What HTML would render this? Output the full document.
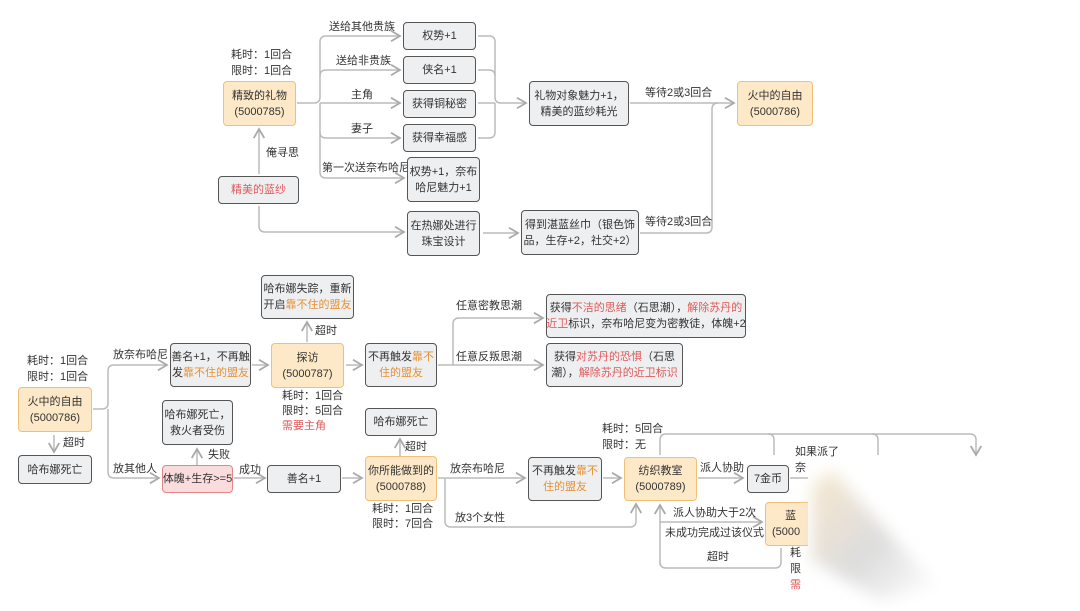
<!DOCTYPE html>
<html><head><meta charset="utf-8"><style>
html,body{margin:0;padding:0;background:#fff;}
#c{position:relative;width:1080px;height:611px;overflow:hidden;background:#fff;font-family:"Liberation Sans","Noto Sans CJK SC",sans-serif;color:#333;font-size:11px;}
.b{position:absolute;box-sizing:border-box;border:1.5px solid #555;border-radius:4px;background:#eeeff1;display:flex;align-items:center;justify-content:center;text-align:center;line-height:16px;font-size:11px;white-space:nowrap;}
.b>div{display:block;}
.o{background:#fde9c8;border-color:#f0c078;}
.p{background:#fadcdc;border-color:#e08888;}
.t{position:absolute;white-space:nowrap;font-size:11px;line-height:15px;}
.r{color:#e05a5a;}.y{color:#e89030;}
svg{position:absolute;left:0;top:0;}
</style></head><body><div id="c">
<svg width="1080" height="611" fill="none" stroke="#bbb" stroke-width="1.5">
<defs><marker id="a" markerWidth="8" markerHeight="8" refX="7" refY="4" orient="auto"><path d="M1,0.5 L7,4 L1,7.5" stroke="#aaa" stroke-width="1.2" fill="none"/></marker></defs>
<path d="M297,103 H314 Q320,103 320,97 V42 Q320,36 326,36 H400" marker-end="url(#a)"/>
<path d="M320,76 Q320,70 326,70 H400" marker-end="url(#a)"/>
<path d="M320,103 H400" marker-end="url(#a)"/>
<path d="M320,103 V132 Q320,138 326,138 H400" marker-end="url(#a)"/>
<path d="M320,132 V172 Q320,178 326,178 H404" marker-end="url(#a)"/>
<path d="M259,174 V129" marker-end="url(#a)"/>
<path d="M478,36 H489 Q495,36 495,42 V97 Q495,103 501,103 H526" marker-end="url(#a)"/>
<path d="M478,70 H489 Q495,70 495,76"/>
<path d="M478,103 H495"/>
<path d="M478,138 H489 Q495,138 495,132 V103"/>
<path d="M630,103 H734" marker-end="url(#a)"/>
<path d="M259,206 V226 Q259,232 265,232 H404" marker-end="url(#a)"/>
<path d="M483,233 H518" marker-end="url(#a)"/>
<path d="M640,233 H706 Q712,233 712,227 V109 Q712,103 718,103"/>
<path d="M93,409 H102 Q108,409 108,403 V371 Q108,365 114,365 H167" marker-end="url(#a)"/>
<path d="M108,409 V472 Q108,478 114,478 H159" marker-end="url(#a)"/>
<path d="M54,435 V452" marker-end="url(#a)"/>
<path d="M252,365 H268" marker-end="url(#a)"/>
<path d="M307,342 V322" marker-end="url(#a)"/>
<path d="M346,365 H362" marker-end="url(#a)"/>
<path d="M438,365 H543" marker-end="url(#a)"/>
<path d="M453,365 V324 Q453,318 459,318 H543" marker-end="url(#a)"/>
<path d="M197,465 V449" marker-end="url(#a)"/>
<path d="M234,478 H265" marker-end="url(#a)"/>
<path d="M342,478 H362" marker-end="url(#a)"/>
<path d="M400,456 V439" marker-end="url(#a)"/>
<path d="M438,478 H525" marker-end="url(#a)"/>
<path d="M445,478 V521 Q445,527 451,527 H630 Q636,527 636,521 V504" marker-end="url(#a)"/>
<path d="M603,478 H621" marker-end="url(#a)"/>
<path d="M698,478 H743" marker-end="url(#a)"/>
<path d="M790,478 H810"/>
<path d="M660,455 V440 Q660,434 666,434 H970 Q976,434 976,440 V455" marker-end="url(#a)"/>
<path d="M768,434 Q774,434 774,440 V455"/>
<path d="M872,434 Q878,434 878,440 V455"/>
<path d="M660,522 H762" marker-end="url(#a)"/>
<path d="M660,565 V505" marker-end="url(#a)"/>
<path d="M660,562 Q660,568 666,568 H775 Q781,568 781,562 V548"/>
</svg>
<div class="t" style="left:231px;top:48px">耗时：1回合</div>
<div class="t" style="left:231px;top:64px">限时：1回合</div>
<div class="b o" style="left:223px;top:81px;width:73px;height:45px"><div>精致的礼物<br>(5000785)</div></div>
<div class="b" style="left:218px;top:176px;width:81px;height:28px"><div class="r">精美的蓝纱</div></div>
<div class="t" style="left:266px;top:146px">俺寻思</div>
<div class="t" style="left:329px;top:20px">送给其他贵族</div>
<div class="t" style="left:336px;top:54px">送给非贵族</div>
<div class="t" style="left:351px;top:88px">主角</div>
<div class="t" style="left:351px;top:122px">妻子</div>
<div class="t" style="left:322px;top:161px">第一次送奈布哈尼</div>
<div class="b" style="left:403px;top:22px;width:73px;height:28px"><div>权势+1</div></div>
<div class="b" style="left:403px;top:56px;width:73px;height:28px"><div>侠名+1</div></div>
<div class="b" style="left:403px;top:90px;width:73px;height:28px"><div>获得铜秘密</div></div>
<div class="b" style="left:403px;top:124px;width:73px;height:28px"><div>获得幸福感</div></div>
<div class="b" style="left:407px;top:157px;width:73px;height:45px"><div>权势+1，奈布<br>哈尼魅力+1</div></div>
<div class="b" style="left:529px;top:81px;width:100px;height:45px"><div>礼物对象魅力+1，<br>精美的蓝纱耗光</div></div>
<div class="t" style="left:645px;top:86px">等待2或3回合</div>
<div class="b o" style="left:737px;top:81px;width:76px;height:45px"><div>火中的自由<br>(5000786)</div></div>
<div class="b" style="left:407px;top:211px;width:73px;height:45px"><div>在热娜处进行<br>珠宝设计</div></div>
<div class="b" style="left:521px;top:210px;width:118px;height:45px"><div>得到湛蓝丝巾（银色饰<br>品，生存+2，社交+2）</div></div>
<div class="t" style="left:645px;top:215px">等待2或3回合</div>
<div class="t" style="left:27px;top:354px">耗时：1回合</div>
<div class="t" style="left:27px;top:370px">限时：1回合</div>
<div class="b o" style="left:18px;top:387px;width:74px;height:45px"><div>火中的自由<br>(5000786)</div></div>
<div class="t" style="left:63px;top:436px">超时</div>
<div class="b" style="left:18px;top:455px;width:74px;height:29px"><div>哈布娜死亡</div></div>
<div class="t" style="left:113px;top:348px">放奈布哈尼</div>
<div class="t" style="left:113px;top:462px">放其他人</div>
<div class="b" style="left:170px;top:343px;width:81px;height:44px"><div>善名+1，不再触<br>发<span class="y">靠不住的盟友</span></div></div>
<div class="b" style="left:261px;top:275px;width:93px;height:44px"><div>哈布娜失踪，重新<br>开启<span class="y">靠不住的盟友</span></div></div>
<div class="t" style="left:315px;top:324px">超时</div>
<div class="b o" style="left:271px;top:343px;width:73px;height:45px"><div>探访<br>(5000787)</div></div>
<div class="t" style="left:282px;top:389px">耗时：1回合</div>
<div class="t" style="left:282px;top:404px">限时：5回合</div>
<div class="t r" style="left:282px;top:419px">需要主角</div>
<div class="b" style="left:365px;top:343px;width:72px;height:44px"><div>不再触发<span class="y">靠不</span><br><span class="y">住的盟友</span></div></div>
<div class="t" style="left:456px;top:299px">任意密教思潮</div>
<div class="t" style="left:456px;top:350px">任意反叛思潮</div>
<div class="b" style="left:546px;top:294px;width:200px;height:44px"><div>获得<span class="r">不洁的思绪</span>（石思潮），<span class="r">解除苏丹的</span><br><span class="r">近卫</span>标识，奈布哈尼变为密教徒，体魄+2</div></div>
<div class="b" style="left:546px;top:343px;width:137px;height:44px"><div>获得<span class="r">对苏丹的恐惧</span>（石思<br>潮），<span class="r">解除苏丹的近卫标识</span></div></div>
<div class="b" style="left:162px;top:400px;width:71px;height:45px"><div>哈布娜死亡，<br>救火者受伤</div></div>
<div class="t" style="left:208px;top:448px">失败</div>
<div class="b p" style="left:162px;top:465px;width:71px;height:28px"><div>体魄+生存&gt;=5</div></div>
<div class="t" style="left:239px;top:463px">成功</div>
<div class="b" style="left:267px;top:465px;width:74px;height:28px"><div>善名+1</div></div>
<div class="b" style="left:365px;top:408px;width:72px;height:28px"><div>哈布娜死亡</div></div>
<div class="t" style="left:405px;top:440px">超时</div>
<div class="b o" style="left:365px;top:456px;width:72px;height:45px"><div>你所能做到的<br>(5000788)</div></div>
<div class="t" style="left:372px;top:502px">耗时：1回合</div>
<div class="t" style="left:372px;top:517px">限时：7回合</div>
<div class="t" style="left:450px;top:462px">放奈布哈尼</div>
<div class="t" style="left:455px;top:511px">放3个女性</div>
<div class="b" style="left:528px;top:457px;width:74px;height:44px"><div>不再触发<span class="y">靠不</span><br><span class="y">住的盟友</span></div></div>
<div class="t" style="left:602px;top:422px">耗时：5回合</div>
<div class="t" style="left:602px;top:438px">限时：无</div>
<div class="b o" style="left:624px;top:457px;width:73px;height:44px"><div>纺织教室<br>(5000789)</div></div>
<div class="t" style="left:700px;top:461px">派人协助</div>
<div class="b" style="left:747px;top:465px;width:42px;height:28px"><div>7金币</div></div>
<div class="t" style="left:795px;top:445px">如果派了</div>
<div class="t" style="left:795px;top:461px">奈</div>
<div class="t" style="left:673px;top:506px">派人协助大于2次</div>
<div class="t" style="left:665px;top:526px">未成功完成过该仪式</div>
<div class="t" style="left:707px;top:550px">超时</div>
<div class="b o" style="left:765px;top:502px;width:80px;height:44px;justify-content:flex-start;padding-left:6px"><div>&nbsp;&nbsp;&nbsp;蓝<br>(5000</div></div>
<div class="t" style="left:790px;top:546px">耗</div>
<div class="t" style="left:790px;top:562px">限</div>
<div class="t r" style="left:790px;top:578px">需</div>
<svg width="1080" height="611"><defs><filter id="bl" x="-50%" y="-50%" width="200%" height="200%"><feGaussianBlur stdDeviation="8"/></filter>
<linearGradient id="g" x1="0" y1="0" x2="1" y2="1"><stop offset="0" stop-color="#f5e2c4"/><stop offset="0.55" stop-color="#d4d4d4"/><stop offset="1" stop-color="#fff"/></linearGradient></defs>
<rect x="836" y="457" width="260" height="170" fill="#fff"/>
<polygon points="808,470 830,462 940,590 890,611 808,611" fill="#fff"/>
<g filter="url(#bl)"><polygon points="812,485 832,470 935,585 880,600 812,560" fill="url(#g)" opacity="0.8"/></g>
</svg>
</div></body></html>
